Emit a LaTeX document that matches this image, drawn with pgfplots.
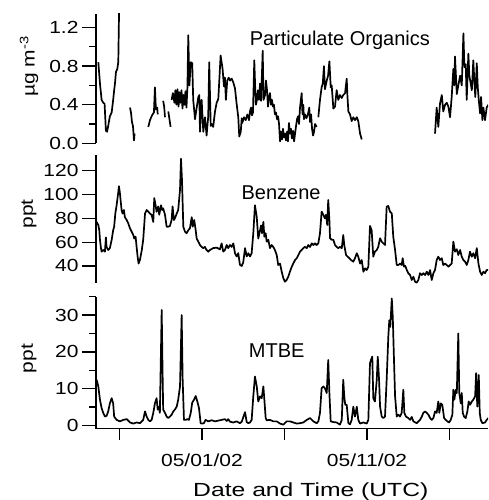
\documentclass[border=0pt]{standalone}
\usepackage{fontspec}
\setmainfont{Liberation Sans}
\newfontfamily\tickfamily[FakeStretch=1.2]{Liberation Sans}
\newfontfamily\labelfamily[FakeStretch=1.3]{Liberation Sans}
\usepackage{pgfplots}
\pgfplotsset{compat=1.18}
\usepackage{pgfplotstable}

\newcommand{\tickfont}{\fontsize{17.5}{18}\tickfamily}
\newcommand{\labelfont}{\fontsize{19}{20}\labelfamily}
\newcommand{\annofont}{\fontsize{20}{22}\selectfont}

% time axis: days relative to 05/01/02 00:00 UTC
% Particulate organics (ug m^-3); nan rows mark gaps in the record
\pgfplotstableread{
day val
-6.28 0.84
-6.18 0.62
-6.08 0.45
-5.98 0.42
-5.90 0.41
-5.82 0.13
-5.75 0.12
-5.68 0.18
-5.58 0.28
-5.47 0.32
-5.38 0.45
-5.32 0.55
-5.27 0.62
-5.21 0.74
-5.13 0.77
-5.07 0.84
-5.02 1.40
nan nan
-4.36 0.37
-4.30 0.32
-4.24 0.22
-4.18 0.18
-4.12 0.03
-4.08 0.10
nan nan
-3.25 0.17
-3.15 0.24
-3.05 0.28
-2.99 0.30
-2.91 0.32
-2.85 0.58
-2.79 0.35
-2.71 0.37
-2.68 0.30
nan nan
-2.35 0.44
-2.29 0.38
-2.24 0.27
nan nan
-2.04 0.33
-1.97 0.25
-1.90 0.17
nan nan
-1.84 0.45
-1.76 0.52
-1.67 0.42
-1.61 0.55
-1.55 0.40
-1.48 0.56
-1.42 0.38
-1.36 0.53
-1.30 0.42
-1.24 0.55
-1.18 0.36
-1.12 0.50
-1.06 0.40
-1.00 0.54
-0.94 0.37
-0.88 0.58
-0.83 1.12
-0.76 0.60
-0.68 0.84
-0.59 0.83
-0.53 0.45
-0.42 0.25
-0.32 0.37
-0.22 0.48
-0.16 0.50
-0.12 0.12
-0.02 0.45
0.08 0.12
0.18 0.27
0.28 0.08
0.38 0.28
0.44 0.84
0.53 0.18
0.59 0.20
0.68 0.17
0.79 0.33
0.89 0.42
0.99 0.46
1.05 0.65
1.13 0.91
1.19 0.84
1.25 0.77
1.33 0.59
1.39 0.68
1.45 0.45
1.53 0.65
1.62 0.68
1.70 0.65
1.80 0.67
1.90 0.63
2.00 0.57
2.10 0.41
2.20 0.27
2.26 0.07
2.35 0.12
2.41 0.26
2.44 0.21
2.55 0.27
2.65 0.24
2.75 0.30
2.85 0.24
2.91 0.33
2.97 0.37
3.03 0.29
3.09 0.32
3.17 0.86
3.23 0.55
3.27 0.40
3.33 0.45
3.39 0.55
3.45 0.45
3.52 0.62
3.58 0.44
3.68 0.96
3.73 0.45
3.82 0.50
3.88 0.65
3.94 0.55
4.00 0.38
4.06 0.48
4.12 0.52
4.18 0.40
4.24 0.45
4.30 0.38
4.36 0.40
4.42 0.30
4.48 0.32
4.55 0.25
4.61 0.28
4.67 0.20
4.73 0.02
4.79 0.12
4.85 0.04
4.91 0.15
4.97 0.06
5.03 0.10
5.09 0.03
5.15 0.12
5.21 0.02
5.27 0.21
5.33 0.10
5.39 0.15
5.45 0.05
5.52 0.13
5.58 0.02
5.70 0.18
5.76 0.25
5.82 0.28
5.88 0.20
5.94 0.37
6.04 0.52
6.09 0.30
6.14 0.40
6.18 0.25
6.24 0.30
6.33 0.26
6.42 0.30
6.50 0.37
6.55 0.22
6.61 0.30
6.67 0.15
6.73 0.08
6.79 0.12
6.85 0.20
6.95 0.17
nan nan
7.05 0.27
7.15 0.45
7.25 0.58
7.32 0.62
7.39 0.80
7.45 0.56
7.56 0.65
7.64 0.70
7.72 0.85
7.80 0.58
7.86 0.60
7.96 0.36
8.06 0.38
8.16 0.55
8.26 0.45
8.36 0.50
8.47 0.47
8.56 0.50
8.67 0.52
8.77 0.67
8.81 0.50
8.87 0.33
8.97 0.30
9.07 0.23
9.17 0.27
9.27 0.24
9.38 0.27
9.47 0.23
9.58 0.10
9.68 0.04
nan nan
14.12 0.10
14.22 0.37
14.32 0.17
14.42 0.41
14.53 0.50
14.62 0.33
14.73 0.40
14.83 0.42
14.93 0.38
15.03 0.27
15.13 0.48
15.23 0.77
15.29 0.60
15.33 0.90
15.44 0.51
15.53 0.60
15.64 0.70
15.74 0.60
15.84 1.14
15.90 0.79
15.98 0.82
16.04 0.45
16.14 0.93
16.20 0.70
16.35 0.55
16.44 0.86
16.50 0.65
16.56 0.48
16.65 0.83
16.71 0.58
16.77 0.45
16.85 0.31
16.91 0.48
16.99 0.24
17.05 0.37
17.15 0.24
17.25 0.37
17.35 0.40
}\orgdata

% Benzene (ppt)
\pgfplotstableread{
day val
-6.38 77
-6.28 74.4
-6.22 70
-6.18 62
-6.12 55
-6.08 52
-5.98 53.4
-5.88 52
-5.82 64
-5.78 56
-5.68 53.4
-5.58 55
-5.47 62
-5.38 70
-5.32 73
-5.25 84
-5.17 91
-5.07 102
-5.03 107
-4.97 101
-4.87 87
-4.81 84
-4.73 87
-4.67 81
-4.56 78.6
-4.47 76
-4.36 71.6
-4.26 68.8
-4.16 66
-4.10 63
-4.02 64.6
-3.96 56
-3.90 48
-3.84 42
-3.76 45
-3.65 53
-3.56 62
-3.45 84
-3.35 87
-3.25 85.6
-3.15 84
-3.05 83
-2.95 77
-2.89 97
-2.81 91
-2.75 85.6
-2.65 90
-2.59 83
-2.48 91
-2.41 87
-2.35 88.4
-2.24 83
-2.14 73
-2.04 73
-1.94 73.6
-1.84 78.6
-1.78 90
-1.70 78.6
-1.64 80
-1.53 84
-1.44 87
-1.33 104
-1.27 130
-1.21 112
-1.13 73
-1.03 68.8
-0.93 67.5
-0.83 70
-0.73 71.6
-0.62 81
-0.56 73
-0.47 78.6
-0.38 70
-0.32 63
-0.22 60.4
-0.12 57.6
-0.02 56
0.08 55
0.18 56
0.28 53.4
0.38 52
0.48 53.4
0.68 55
0.89 55.4
1.09 54
1.19 59
1.29 52
1.39 53.4
1.50 57.6
1.59 55
1.70 57.6
1.80 56
1.90 59
2.00 50.7
2.10 48
2.20 50.7
2.30 41
2.41 40
2.50 43
2.61 55
2.71 48
2.81 50.7
2.91 48
3.01 50.7
3.11 67.5
3.21 91
3.32 81
3.41 63
3.52 70
3.58 74
3.64 67.5
3.72 77
3.78 64.6
3.86 67.5
3.92 60.4
4.02 62
4.12 55
4.22 57.6
4.32 56
4.42 53.4
4.53 49.2
4.62 40.8
4.73 42
4.83 35.2
4.93 29.7
5.03 26.8
5.13 28.2
5.23 31
5.33 35.2
5.44 39.4
5.53 42
5.64 45
5.74 46.5
5.84 49.2
5.94 52
6.04 53.4
6.14 55
6.24 56
6.35 55
6.44 57.6
6.55 56
6.65 59
6.75 57.6
6.85 59
6.95 57.6
7.05 59
7.15 67.5
7.25 85.6
7.35 83
7.45 80
7.52 83
7.59 74.4
7.65 95.4
7.72 78.6
7.76 63.3
7.86 62
7.96 62
8.06 57.6
8.16 56
8.26 55
8.36 56
8.47 55
8.56 66
8.62 57.6
8.73 49.2
8.83 47.8
8.93 46.5
9.03 45
9.17 43.6
9.27 46.5
9.38 50.7
9.47 47.8
9.58 42
9.68 45
9.78 35.2
9.88 38
9.98 36.6
10.08 39.4
10.18 73.6
10.28 70
10.38 47.8
10.48 52
10.59 53.4
10.68 56
10.79 63.3
10.89 60.4
10.99 59
11.09 57.6
11.19 89.8
11.29 90.4
11.39 85.6
11.50 84.2
11.59 64.6
11.70 53.4
11.80 40.8
11.90 40.8
12.00 42
12.10 40.8
12.16 46.5
12.24 39.4
12.32 40
12.41 36.6
12.50 33.9
12.61 32.4
12.71 28.2
12.81 31
12.91 26.8
13.01 26
13.11 28.2
13.21 33.9
13.32 32.4
13.41 33.9
13.52 32.4
13.62 35.2
13.72 32.4
13.82 36.6
13.92 28.2
14.02 33.9
14.12 36.6
14.22 45
14.32 47.8
14.42 45
14.53 46.5
14.62 40.8
14.73 42
14.83 40.8
14.93 39.4
15.03 40.8
15.13 42
15.23 60.4
15.33 52
15.44 54
15.53 49.2
15.64 53.4
15.74 47.8
15.84 45
15.94 43.6
16.04 40.8
16.14 45
16.24 52
16.35 47.8
16.44 50.7
16.55 46.5
16.65 55
16.75 42
16.85 35.2
16.95 32.4
17.05 35.2
17.15 33.9
17.25 36.6
17.35 36.6
}\benzdata

% MTBE (ppt)
\pgfplotstableread{
day val
-6.38 12.4
-6.28 10.6
-6.18 7
-6.08 4.7
-5.98 3.4
-5.88 2.4
-5.78 2.6
-5.68 3.8
-5.58 6
-5.47 7.4
-5.38 6
-5.32 2.4
-5.17 1.5
-4.97 1.1
-4.77 1.5
-4.56 1.7
-4.36 0.8
-4.16 0.5
-3.96 0.8
-3.76 0.6
-3.56 1.5
-3.45 3.8
-3.35 2.4
-3.25 1.5
-3.15 1.1
-3.05 1.5
-2.95 3.4
-2.85 6
-2.75 7.4
-2.68 4.3
-2.61 5.1
-2.55 3.4
-2.44 31.4
-2.38 12.4
-2.35 4.3
-2.24 3.4
-2.14 2.4
-2.04 2
-1.94 2.4
-1.84 2.9
-1.74 3.8
-1.64 4.3
-1.53 5.1
-1.44 7
-1.33 10.6
-1.23 30
-1.17 12.4
-1.09 1.5
-0.99 1.5
-0.89 1.7
-0.79 1.5
-0.68 3.4
-0.59 6.2
-0.48 7
-0.38 8
-0.28 6.5
-0.18 4.7
-0.08 0.6
0.02 0.5
0.12 0.6
0.22 1.5
0.38 1.1
0.59 1.4
0.79 1.1
0.99 1.3
1.19 1.5
1.39 1.7
1.50 1.2
1.59 1.7
1.70 1.0
1.90 0.8
2.10 1.1
2.30 0.6
2.41 1.0
2.50 2.2
2.61 3.6
2.71 0.9
2.81 0.6
2.91 0.8
3.01 1.5
3.11 7.9
3.21 13.3
3.32 10.6
3.41 6.5
3.52 7.9
3.62 7.4
3.72 10.6
3.78 7
3.86 2
3.92 1.4
4.12 1.5
4.32 1.1
4.53 1.1
4.73 0.5
4.93 0.2
5.13 1.1
5.33 1.1
5.53 0.8
5.74 0.5
5.94 0.6
6.14 0.8
6.35 1.5
6.55 2
6.75 1.1
6.95 0.6
7.05 1.1
7.15 3.4
7.25 10.1
7.35 10.6
7.45 10.1
7.56 8.8
7.65 17.8
7.72 8.8
7.80 1.1
7.96 0.9
8.16 0.8
8.36 0.2
8.47 1.5
8.56 12.4
8.62 7.9
8.68 5.6
8.77 5.6
8.87 0.6
8.97 0.3
9.07 1.5
9.17 5.1
9.27 2.4
9.38 5.1
9.47 1.5
9.58 0.5
9.78 0.8
9.98 0.5
10.08 1.5
10.18 16.9
10.24 17.8
10.32 18.7
10.38 7.4
10.48 6.5
10.59 12.4
10.65 18.7
10.73 12.4
10.79 5.1
10.89 2.4
10.99 2
11.09 2.4
11.19 12.4
11.29 24.1
11.35 28.6
11.41 26.8
11.50 34.5
11.56 29.5
11.64 16.9
11.70 7.9
11.80 2.4
11.90 2.9
12.00 2.4
12.10 3.4
12.20 9.7
12.26 3.4
12.36 2.4
12.50 2
12.61 1.5
12.71 2.3
12.81 1.1
13.01 0.6
13.21 1.5
13.32 2.4
13.41 3.4
13.52 3.8
13.62 3.4
13.72 2.9
13.82 2
13.92 1.5
14.02 2
14.12 3.8
14.22 3.4
14.32 6.5
14.38 3.4
14.47 6
14.56 5.6
14.67 2
14.77 1.5
14.87 1.1
14.97 0.8
15.07 1.5
15.17 2.9
15.23 9.7
15.29 7
15.38 9.7
15.44 8.8
15.53 25
15.59 8.8
15.68 6
15.74 8.8
15.80 3.4
15.88 2.4
15.98 2
16.08 3.8
16.16 6.5
16.24 5.6
16.35 6.5
16.44 7
16.55 7.9
16.61 14.2
16.68 5.1
16.77 13.7
16.83 3.4
16.89 1.5
16.99 0.6
17.15 0.8
17.25 1.5
17.35 2
}\mtbedata

\pgfplotsset{
  panel/.style={
    scale only axis, width=392pt,
    xmin=-6.42, xmax=17.33,
    anchor=north west,
    tick align=outside,
    axis line style={line width=1.3pt, black},
    every tick/.style={line width=1.3pt, black},
    major tick length=14pt, minor tick length=7pt,
    tick label style={font=\tickfont},
    /pgf/number format/assume math mode=true,
    ylabel style={font=\tickfont, anchor=center},
    unbounded coords=jump,
    clip=true,
  },
  trace/.style={black, line width=1.7pt, line join=round, no markers},
}

\begin{document}
\begin{tikzpicture}
\useasboundingbox (0pt,0pt) rectangle (489pt,-500pt);

% particulate organics
\begin{axis}[panel,
  at={(96pt,-14pt)}, height=129.3pt,
  ymin=0, ymax=1.34,
  axis x line=none, axis y line*=left,
  ytick={0,0.4,0.8,1.2}, minor ytick={0.2,0.6,1.0},
  yticklabel style={/pgf/number format/fixed, /pgf/number format/fixed zerofill,
    /pgf/number format/precision=1},
  ylabel={µg m\textsuperscript{-3}},
  ylabel style={at={(axis description cs:-0.171,0.594)}},
]
\addplot[trace] table[x=day, y=val] {\orgdata};
\node[font=\annofont, anchor=base] at (rel axis cs:0.622,0.76) {Particulate Organics};
\end{axis}

% benzene
\begin{axis}[panel,
  at={(96pt,-155pt)}, height=128pt,
  ymin=25.7, ymax=133.2,
  axis x line=none, axis y line*=left,
  ytick={40,60,80,100,120},
  ylabel={ppt},
  ylabel style={at={(axis description cs:-0.171,0.54)}},
]
\addplot[trace] table[x=day, y=val] {\benzdata};
\node[font=\annofont, anchor=base] at (rel axis cs:0.472,0.656) {Benzene};
\end{axis}

% MTBE
\begin{axis}[panel,
  at={(96pt,-296.7pt)}, height=132pt,
  ymin=-0.9, ymax=35,
  axis x line=none, axis y line*=left,
  ytick={0,10,20,30}, minor ytick={5,15,25,35},
  ylabel={ppt},
  ylabel style={at={(axis description cs:-0.171,0.53)}},
]
\addplot[trace] table[x=day, y=val] {\mtbedata};
\node[font=\annofont, anchor=base] at (rel axis cs:0.461,0.536) {MTBE};
\end{axis}

% shared time axis
\begin{axis}[panel,
  at={(96pt,-296.7pt)}, height=132pt,
  ymin=-0.9, ymax=35,
  axis y line=none, axis x line*=bottom,
  major tick length=11pt,
  xtick={-5,0,5,10,15},
  xticklabels={,05/01/02,,05/11/02,},
  xticklabel style={yshift=-11pt},
  xlabel={Date and Time (UTC)},
  xlabel style={font=\labelfont, anchor=base, at={(axis description cs:0.548,-0.51)}},
]
\end{axis}
\end{tikzpicture}
\end{document}
